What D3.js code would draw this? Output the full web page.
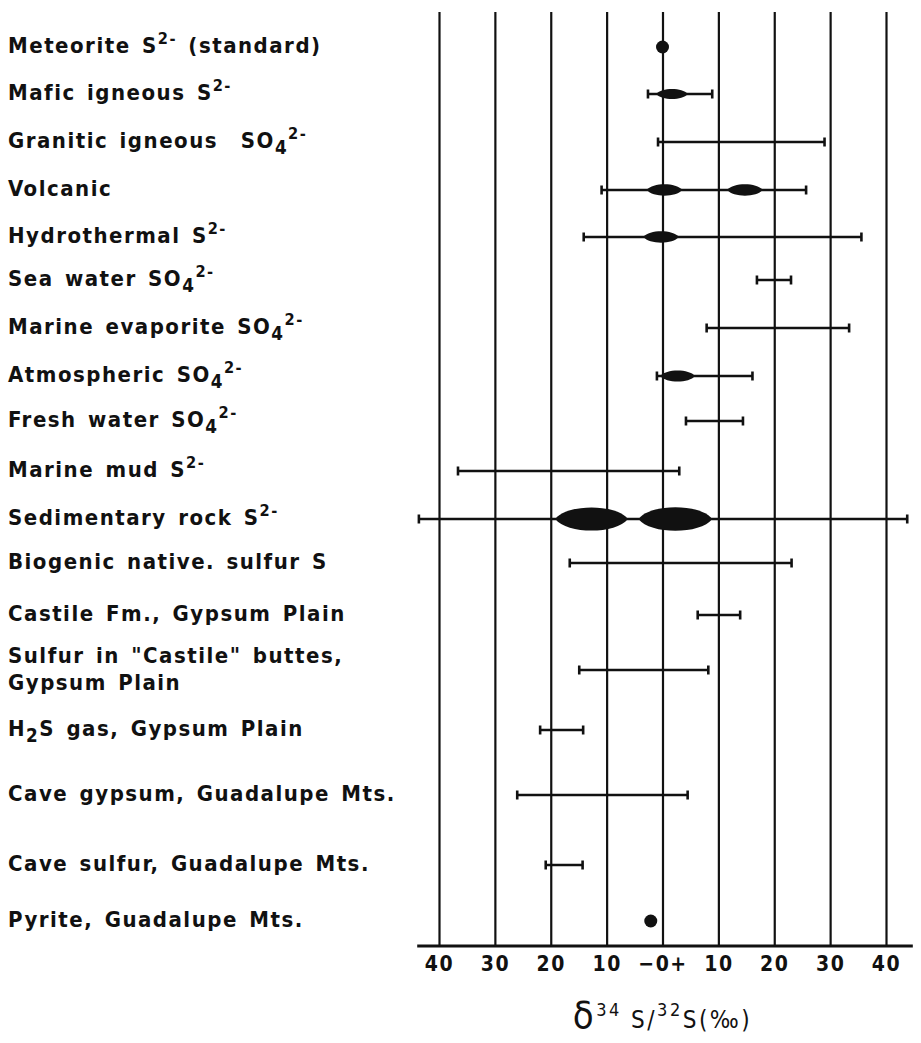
<!DOCTYPE html>
<html>
<head>
<meta charset="utf-8">
<script src="https://cdn.jsdelivr.net/npm/d3@7"></script>
<style>
  html, body { margin: 0; padding: 0; background: #fff; }
  svg { display: block; }
</style>
</head>
<body>
<svg id="chart" width="921" height="1043"></svg>
<script>
// ---- Data: δ34S/32S ranges (per mil) of sulfur sources ----
const categories = [
  "Meteorite", "Mafic igneous", "Granitic igneous", "Volcanic", "Hydrothermal",
  "Sea water", "Marine evaporite", "Atmospheric", "Fresh water", "Marine mud",
  "Sedimentary rock", "Biogenic native sulfur", "Castile Fm.", "Castile buttes sulfur",
  "H2S gas", "Cave gypsum", "Cave sulfur", "Pyrite"
];

// Row labels; {_x} = subscript, {^x} = superscript, \n = line break
const labels = [
  "Meteorite S{^2-} (standard)",
  "Mafic igneous S{^2-}",
  "Granitic igneous  SO{_4}{^2-}",
  "Volcanic",
  "Hydrothermal S{^2-}",
  "Sea water SO{_4}{^2-}",
  "Marine evaporite SO{_4}{^2-}",
  "Atmospheric SO{_4}{^2-}",
  "Fresh water SO{_4}{^2-}",
  "Marine mud S{^2-}",
  "Sedimentary rock S{^2-}",
  "Biogenic native. sulfur S",
  "Castile Fm., Gypsum Plain",
  "Sulfur in \"Castile\" buttes,\nGypsum Plain",
  "H{_2}S gas, Gypsum Plain",
  "Cave gypsum, Guadalupe Mts.",
  "Cave sulfur, Guadalupe Mts.",
  "Pyrite, Guadalupe Mts."
];

// Full observed range (null where only a single value is known)
const rangeLow  = [null, -2.6, -0.8, -10.9, -14.1, 16.9,  7.9, -1.0,  4.2, -36.6, -43.6, -16.6,  6.3, -14.9, -21.9, -26.0, -20.9, null];
const rangeHigh = [null,  8.9, 29.0,  25.7,  35.6, 23.0, 33.4, 16.1, 14.4,   3.0,  43.8,  23.1, 13.9,   8.2, -14.2,   4.5, -14.3, null];

// Single values (dots)
const pointRows   = ["Meteorite", "Pyrite"];
const pointValues = [0, -2.1];

// Most frequent values (filled lenses)
const modeRows = ["Mafic igneous", "Volcanic", "Volcanic", "Hydrothermal", "Atmospheric", "Sedimentary rock", "Sedimentary rock"];
const modeLow  = [-1.1, -2.8, 11.6, -3.4, -0.4, -19.2, -4.3];
const modeHigh = [ 4.5,  3.5, 17.9,  2.9,  5.8,  -6.2,  8.9];

// Axis
const tickValues = [-40, -30, -20, -10, 0, 10, 20, 30, 40];
const tickLabels = ["40", "30", "20", "10", "\u22120+", "10", "20", "30", "40"];

// ---- Layout ----
const svg = d3.select("#chart");
const INK = "#111";
const FONT = "'DejaVu Sans Condensed', 'DejaVu Sans', sans-serif";
const axisY = 946;
const gridTop = 12;
const rowY = [47, 94, 142, 190, 237, 280, 328, 376, 421, 471, 519, 563, 615, 670, 730, 795, 865, 921];

const x = d3.scaleLinear().domain([-40, 40]).range([439, 886]);
const y = d3.scaleOrdinal().domain(categories).range(rowY);

// Grid lines and tick labels
const axis = d3.axisBottom(x)
  .tickValues(tickValues)
  .tickFormat((d, i) => tickLabels[i])
  .tickSizeInner(-(axisY - gridTop))
  .tickSizeOuter(0)
  .tickPadding(10);

const gAxis = svg.append("g")
  .attr("transform", `translate(0,${axisY})`)
  .call(axis);
gAxis.select(".domain").remove();
gAxis.selectAll(".tick line").attr("stroke", INK).attr("stroke-width", 2.2);
gAxis.selectAll(".tick text")
  .attr("fill", INK)
  .style("font-family", FONT)
  .style("font-size", "21px")
  .style("font-weight", "bold")
  .style("letter-spacing", "1.5px");

// Base line
svg.append("line")
  .attr("x1", x(-43.9)).attr("x2", x(44.8))
  .attr("y1", axisY).attr("y2", axisY)
  .attr("stroke", INK).attr("stroke-width", 3);

// Range bars with end caps
const bars = categories.map((c, i) => ({ c, lo: rangeLow[i], hi: rangeHigh[i] }))
  .filter(d => d.lo != null);
const gBars = svg.append("g");
gBars.selectAll("line.range").data(bars).join("line")
  .attr("class", "range")
  .attr("x1", d => x(d.lo)).attr("x2", d => x(d.hi))
  .attr("y1", d => y(d.c)).attr("y2", d => y(d.c))
  .attr("stroke", INK).attr("stroke-width", 2.4);
const caps = bars.flatMap(d => [{ c: d.c, v: d.lo }, { c: d.c, v: d.hi }]);
gBars.selectAll("line.cap").data(caps).join("line")
  .attr("class", "cap")
  .attr("x1", d => x(d.v)).attr("x2", d => x(d.v))
  .attr("y1", d => y(d.c) - 4.5).attr("y2", d => y(d.c) + 4.5)
  .attr("stroke", INK).attr("stroke-width", 2.6);

// Lens-shaped modes
const modes = modeRows.map((c, i) => ({ c, lo: modeLow[i], hi: modeHigh[i] }));
function lens(d) {
  const x0 = x(d.lo), x1 = x(d.hi), cy = y(d.c);
  const w = x1 - x0;
  const h = (w * 0.16) / 0.75;
  return `M${x0},${cy}` +
    `C${x0 + 0.16 * w},${cy - h} ${x1 - 0.16 * w},${cy - h} ${x1},${cy}` +
    `C${x1 - 0.16 * w},${cy + h} ${x0 + 0.16 * w},${cy + h} ${x0},${cy}Z`;
}
svg.append("g").selectAll("path").data(modes).join("path")
  .attr("d", lens)
  .attr("fill", INK);

// Single-value dots
svg.append("g").selectAll("circle")
  .data(pointRows.map((c, i) => ({ c, v: pointValues[i] })))
  .join("circle")
  .attr("cx", d => x(d.v)).attr("cy", d => y(d.c))
  .attr("r", 6.5).attr("fill", INK);

// Row labels with sub/superscripts
function addRich(textSel, str, size) {
  const parts = str.split(/(\{[_^][^}]*\})/).filter(s => s.length);
  let offset = 0;
  parts.forEach(p => {
    const m = p.match(/^\{([_^])(.*)\}$/);
    let target = 0, txt = p, fs = size;
    if (m) {
      txt = m[2];
      if (m[1] === "_") { target = 6; fs = size * 0.85; }
      else { target = -9; fs = size * 0.74; }
    }
    textSel.append("tspan")
      .attr("dy", target - offset)
      .style("font-size", fs + "px")
      .text(txt);
    offset = target;
  });
}

const labelSize = 22;
const gLabels = svg.append("g")
  .style("font-family", FONT)
  .style("font-weight", "bold")
  .style("letter-spacing", "1.5px")
  .style("word-spacing", "3px")
  .attr("fill", INK);
labels.forEach((lab, i) => {
  const lines = lab.split("\n");
  const lineGap = 27;
  lines.forEach((ln, j) => {
    const cy = y(categories[i]) + (j - (lines.length - 1) / 2) * lineGap;
    const t = gLabels.append("text")
      .attr("x", 8)
      .attr("y", cy + 6)
      .style("font-size", labelSize + "px")
      .attr("xml:space", "preserve");
    addRich(t, ln, labelSize);
  });
});

// Axis title: δ34S/32S (‰)
const title = svg.append("text")
  .attr("x", x(0))
  .attr("y", 1028)
  .attr("text-anchor", "middle")
  .attr("fill", INK)
  .style("font-family", FONT)
  .style("letter-spacing", "2.5px");
const titleParts = [
  { t: "\u03B4", fs: 38, dy: 0 },
  { t: "34", fs: 18, dy: -12 },
  { t: " S", fs: 24, dy: 12 },
  { t: "/", fs: 24, dy: 0 },
  { t: "32", fs: 18, dy: -12 },
  { t: "S", fs: 24, dy: 12 },
  { t: "(\u2030)", fs: 24, dy: 0 }
];
titleParts.forEach(p => {
  title.append("tspan").attr("dy", p.dy).style("font-size", p.fs + "px").text(p.t);
});
</script>
</body>
</html>
